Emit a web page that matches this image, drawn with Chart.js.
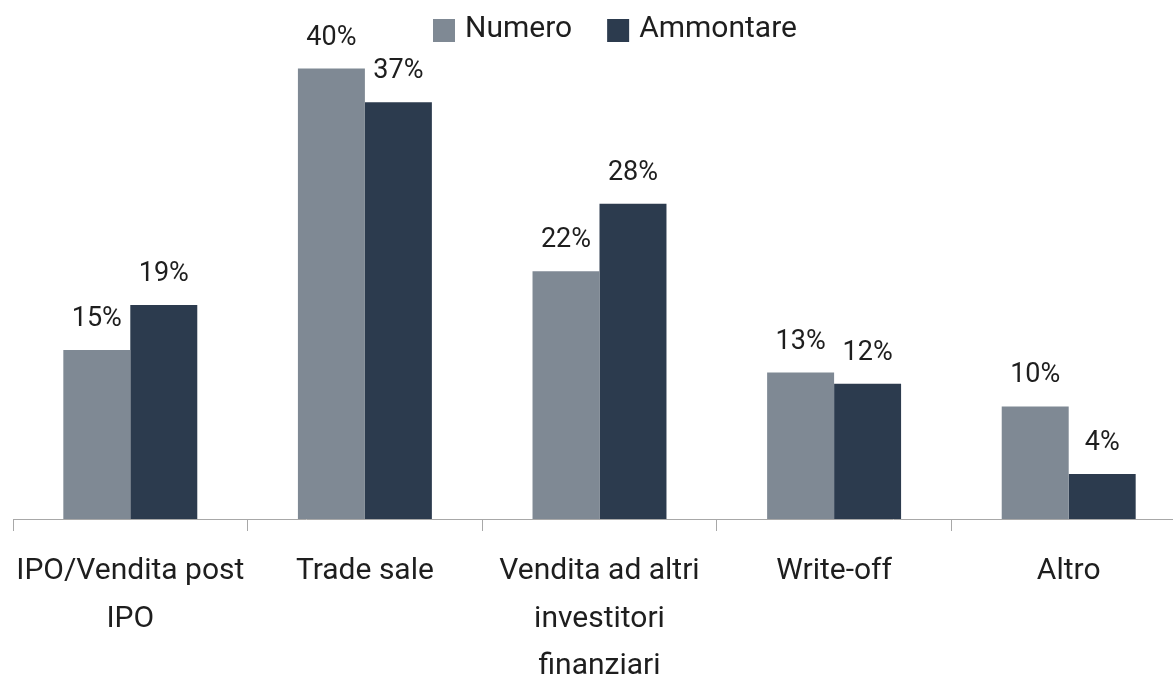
<!DOCTYPE html>
<html>
<head>
<meta charset="utf-8">
<script src="https://cdn.jsdelivr.net/npm/chart.js@4/dist/chart.umd.min.js"></script>
<style>
  html, body { margin: 0; padding: 0; background: #ffffff; overflow: hidden; }
  #wrap { width: 1173px; height: 681px; overflow: hidden; }
  canvas { display: block; }
</style>
</head>
<body>
<div id="wrap"><canvas id="c" width="1200" height="681"></canvas></div>
<script>
// Exit routes: share by number of deals vs. share by amount (%)
const categories = [
  ['IPO/Vendita post', 'IPO'],
  'Trade sale',
  ['Vendita ad altri', 'investitori', 'finanziari'],
  'Write-off',
  'Altro'
];
const numero = [15, 40, 22, 13, 10];
const ammontare = [19, 37, 28, 12, 4];
const seriesNames = ['Numero', 'Ammontare'];
const seriesColors = ['#7f8994', '#2c3b4e'];

const FONT = 'Roboto, "Noto Sans", sans-serif';

// Percentage value printed above each bar
const valueLabels = {
  id: 'valueLabels',
  afterDatasetsDraw(chart) {
    const ctx = chart.ctx;
    ctx.save();
    ctx.font = '27px ' + FONT;
    ctx.fillStyle = '#1e1e1e';
    ctx.textAlign = 'center';
    ctx.textBaseline = 'alphabetic';
    chart.data.datasets.forEach((ds, i) => {
      chart.getDatasetMeta(i).data.forEach((bar, j) => {
        ctx.fillText(ds.data[j] + '%', bar.x, bar.y - 24);
      });
    });
    ctx.restore();
  }
};

// Legend laid over the top of the plot
const overlayLegend = {
  id: 'overlayLegend',
  afterDraw(chart) {
    const ctx = chart.ctx;
    ctx.save();
    ctx.font = '30px ' + FONT;
    ctx.textBaseline = 'alphabetic';
    ctx.textAlign = 'left';
    let x = 433;
    const box = 22;
    chart.data.datasets.forEach((ds, i) => {
      ctx.fillStyle = ds.backgroundColor;
      ctx.fillRect(x, 19, box, 23);
      ctx.fillStyle = '#1e1e1e';
      ctx.fillText(ds.label, x + box + 10, 37);
      x += box + 10 + ctx.measureText(ds.label).width + 35;
    });
    ctx.restore();
  }
};

new Chart(document.getElementById('c'), {
  type: 'bar',
  data: {
    labels: categories,
    datasets: [
      { label: seriesNames[0], data: numero, backgroundColor: seriesColors[0] },
      { label: seriesNames[1], data: ammontare, backgroundColor: seriesColors[1] }
    ]
  },
  options: {
    responsive: false,
    animation: false,
    events: [],
    layout: { padding: { left: 13, right: 14, top: 1, bottom: 0 } },
    datasets: {
      bar: { categoryPercentage: 0.571, barPercentage: 1.0, borderWidth: 0 }
    },
    plugins: {
      legend: { display: false },
      tooltip: { enabled: false }
    },
    scales: {
      x: {
        offset: true,
        afterFit(scale) {
          scale.height = 162;
          scale.paddingLeft = 0;
          scale.paddingRight = 0;
        },
        grid: {
          offset: true,
          drawOnChartArea: false,
          drawTicks: true,
          tickLength: 12,
          color: '#a8a8a8',
          lineWidth: 1
        },
        border: { display: true, color: '#a8a8a8', width: 1 },
        ticks: {
          padding: 17,
          color: '#1e1e1e',
          maxRotation: 0,
          autoSkip: false,
          font: { family: FONT, size: 30, lineHeight: 1.58 }
        }
      },
      y: {
        display: false,
        min: 0,
        max: 46
      }
    }
  },
  plugins: [valueLabels, overlayLegend]
});
</script>
</body>
</html>
